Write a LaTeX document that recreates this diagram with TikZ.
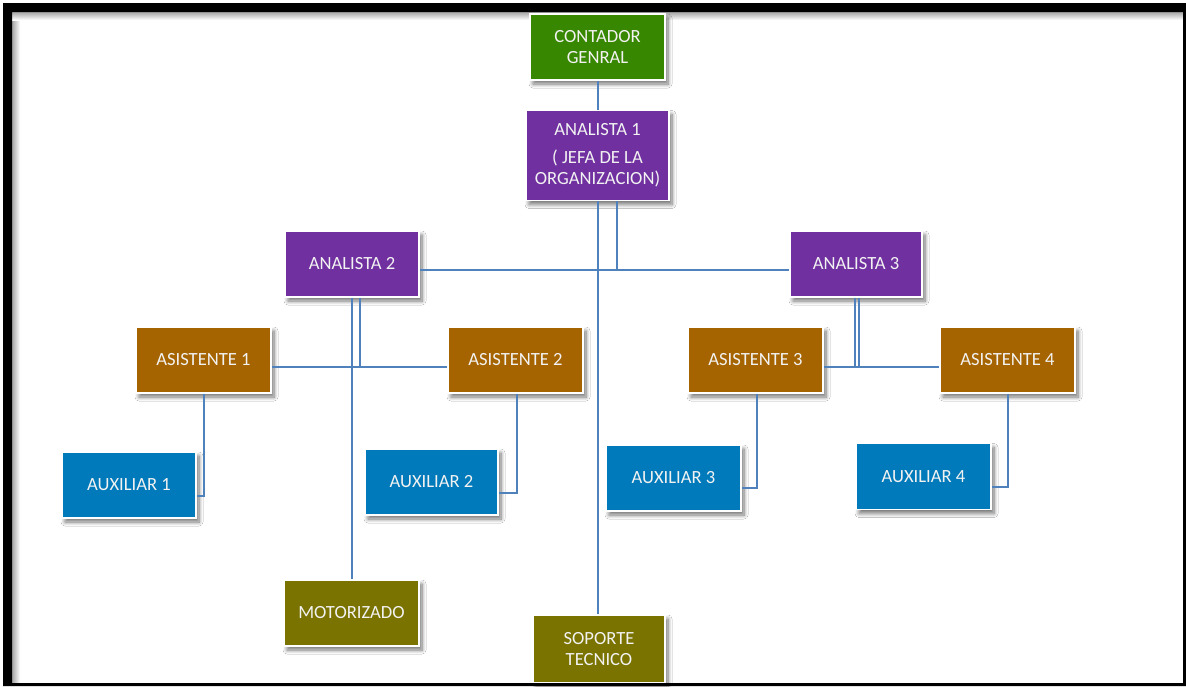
\documentclass[tikz,border=0pt]{standalone}
\usepackage{fontspec}
\setmainfont{Carlito}
\usetikzlibrary{shadows.blur}
\definecolor{cgreen}{RGB}{56,135,0}
\definecolor{cpurple}{RGB}{112,48,160}
\definecolor{cbrown}{RGB}{166,100,0}
\definecolor{cblue}{RGB}{0,122,186}
\definecolor{colive}{RGB}{122,115,0}
\definecolor{cline}{RGB}{79,129,189}
\definecolor{ctext}{RGB}{242,242,242}
\begin{document}
\begin{tikzpicture}[x=1pt,y=-1pt,
  box/.style={draw=white, line width=1.2pt, minimum width=134pt, minimum height=66pt, inner sep=0pt,
    text=ctext, align=center, font=\fontsize{18.6}{21}\selectfont,
    blur shadow={shadow xshift=3pt, shadow yshift=-4pt, shadow blur steps=8, shadow blur radius=4pt, shadow opacity=55}},
  conn/.style={draw=cline, line width=2pt}]
\fill[white] (0,0) rectangle (1186,686);
\useasboundingbox (0,0) rectangle (1186,686);
\shade[left color=black!35, right color=white] (12,12) rectangle (20,683);
\shade[top color=black!35, bottom color=white] (12,12) rectangle (1183,20);

% nodes
\node[box, fill=cgreen, minimum width=135pt] (cg) at (597.5,47) {CONTADOR\\GENRAL};
\node[box, fill=cpurple, minimum width=143pt, minimum height=90pt] (a1) at (597.5,155.5) {ANALISTA 1\\[7pt]( JEFA DE LA\\ORGANIZACION)};
\node[box, fill=cpurple] (a2) at (352,264) {ANALISTA 2};
\node[box, fill=cpurple, minimum width=132pt] (a3) at (856,264) {ANALISTA 3};
\node[box, fill=cbrown, minimum width=135pt] (s1) at (203.5,360) {ASISTENTE 1};
\node[box, fill=cbrown, minimum width=135pt] (s2) at (515.5,360) {ASISTENTE 2};
\node[box, fill=cbrown, minimum width=135pt] (s3) at (755.5,360) {ASISTENTE 3};
\node[box, fill=cbrown, minimum width=135pt] (s4) at (1007.5,360) {ASISTENTE 4};
\node[box, fill=cblue] (x1) at (129,485) {AUXILIAR 1};
\node[box, fill=cblue, minimum width=133pt] (x2) at (431.5,482) {AUXILIAR 2};
\node[box, fill=cblue, minimum width=135pt] (x3) at (673.5,478) {AUXILIAR 3};
\node[box, fill=cblue, minimum width=135pt] (x4) at (923.5,476.5) {AUXILIAR 4};
\node[box, fill=colive, minimum width=135pt] (mo) at (351.5,613) {MOTORIZADO};
\node[box, fill=colive, minimum width=132pt, minimum height=68pt] (sp) at (599,649) {SOPORTE\\TECNICO};

% connectors
\draw[conn] (cg.south) -- (cg.south |- a1.north);
\draw[conn] (a1.south) -- (a1.south |- sp.north);
\coordinate (hl) at ([yshift=-6pt]a2.east);
\coordinate (hr) at ([yshift=-6pt]a3.west);
\draw[conn] (hl) -- (hr);
\coordinate (a1r) at ([xshift=19.5pt]a1.south);
\draw[conn] (a1r) -- (a1r |- hl);

\coordinate (a2l) at ([xshift=-0.5pt]a2.south);
\coordinate (a2r) at ([xshift=8pt]a2.south);
\coordinate (s1r) at ([yshift=-7pt]s1.east);
\coordinate (s2l) at ([yshift=-7pt]s2.west);
\draw[conn] (s1r) -- (s2l);
\draw[conn] (a2l) -- (a2l |- mo.north);
\draw[conn] (a2r) -- (a2r |- s1r);

\coordinate (a3l) at ([xshift=-1pt]a3.south);
\coordinate (a3r) at ([xshift=3pt]a3.south);
\coordinate (s3r) at ([yshift=-7pt]s3.east);
\coordinate (s4l) at ([yshift=-7pt]s4.west);
\draw[conn] (s3r) -- (s4l);
\draw[conn] (a3l) -- (a3l |- s3r);
\draw[conn] (a3r) -- (a3r |- s3r);

\draw[conn] ([xshift=0.5pt]s1.south) |- ([yshift=-10.5pt]x1.east);
\draw[conn] ([xshift=1.5pt]s2.south) |- ([yshift=-10.5pt]x2.east);
\draw[conn] ([xshift=1.5pt]s3.south) |- ([yshift=-10pt]x3.east);
\draw[conn] ([xshift=0.5pt]s4.south) |- ([yshift=-10pt]x4.east);

% frame
\fill[black, even odd rule] (3,3) rectangle (1186,686) (12,12) rectangle (1183,683);
\end{tikzpicture}
\end{document}
